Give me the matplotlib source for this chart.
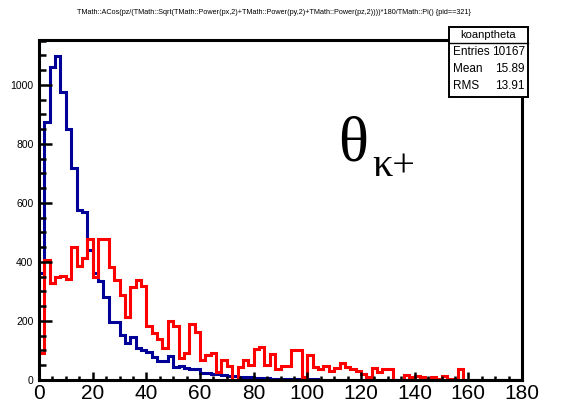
import numpy as np
import matplotlib
matplotlib.use("Agg")
import matplotlib.pyplot as plt
from matplotlib import font_manager
from matplotlib.ticker import MultipleLocator
from matplotlib.patches import Rectangle
from matplotlib.lines import Line2D

# ---- data: 90 bins of 2 degrees between 0 and 180 ----
bin_edges = np.arange(0, 182, 2)

theta_kaon = [  # blue histogram (koanptheta)
    361, 874, 1060, 1097, 975, 849, 719, 575, 570, 440,
    361, 336, 282, 198, 198, 153, 124, 145, 110, 102,
    96, 79, 66, 66, 81, 45, 49, 40, 37, 37,
    25, 23, 20, 20, 17, 14, 12, 10, 9, 9,
    7, 6, 6, 5, 4, 4, 3, 2, 2, 2,
    2, 2, 1, 1, 1, 1, 0, 0, 0, 0,
    0, 0, 0, 0, 0, 0, 0, 0, 0, 0,
    0, 0, 0, 0, 0, 0, 0, 0, 0, 0,
    0, 0, 0, 0, 0, 0, 0, 0, 0, 0,
]

theta_other = [  # red histogram
    91, 405, 330, 350, 352, 343, 452, 386, 412, 477,
    350, 477, 477, 384, 339, 288, 215, 315, 340, 320,
    183, 158, 139, 110, 201, 183, 73, 93, 190, 164,
    68, 85, 93, 28, 68, 47, 0, 45, 68, 51,
    105, 111, 51, 88, 36, 49, 49, 102, 102, 9,
    85, 45, 37, 48, 30, 40, 58, 45, 36, 30,
    20, 9, 40, 28, 38, 36, 0, 0, 18, 9,
    13, 9, 5, 9, 4, 12, 4, 4, 37, 0,
    0, 0, 0, 0, 0, 0, 0, 0, 0, 0,
]

x_ticks = [0, 20, 40, 60, 80, 100, 120, 140, 160, 180]
y_ticks = [0, 200, 400, 600, 800, 1000]

title_text = ("TMath::ACos(pz/(TMath::Sqrt(TMath::Power(px,2)+TMath::Power(py,2)"
              "+TMath::Power(pz,2))))*180/TMath::Pi() {pid==321}")
stats_name = "koanptheta"
stats_rows = [("Entries", "10167"), ("Mean", "15.89"), ("RMS", "13.91")]

# ---- fonts ----
available = {f.name for f in font_manager.fontManager.ttflist}
def pick(*names):
    for n in names:
        if n in available:
            return n
    return "DejaVu Sans"

sans = pick("Liberation Sans Narrow", "Liberation Sans", "DejaVu Sans")
serif = pick("Liberation Serif", "DejaVu Serif")

W, H = 568, 412
fig = plt.figure(figsize=(W / 100, H / 100), dpi=100)

def fx(px):
    return px / W

def fy(py):
    return 1 - py / H

left, right, top, bottom = 39, 522, 40, 380
ax = fig.add_axes([fx(left), fy(bottom), fx(right) - fx(left), fy(top) - fy(bottom)])

ax.stairs(theta_kaon, bin_edges, color="#000099", lw=2.2, baseline=None)
ax.stairs(theta_other, bin_edges, color="#ff0000", lw=2.2, baseline=None)

ax.set_xlim(0, 180)
ax.set_ylim(0, 1.05 * max(theta_kaon))

for s in ax.spines.values():
    s.set_linewidth(2.2)
    s.set_color("black")

ax.set_xticks(x_ticks)
ax.set_yticks(y_ticks)
ax.xaxis.set_minor_locator(MultipleLocator(5))
ax.yaxis.set_minor_locator(MultipleLocator(50))
ax.tick_params(axis="x", which="major", direction="in", length=6, width=1.8, pad=3,
               labelsize=15)
ax.tick_params(axis="x", which="minor", direction="in", length=3, width=1.8)
ax.tick_params(axis="y", which="major", direction="in", length=9.5, width=1.8, pad=4,
               labelsize=7.5)
ax.tick_params(axis="y", which="minor", direction="in", length=4.8, width=1.8)
for lab in ax.get_xticklabels() + ax.get_yticklabels():
    lab.set_fontfamily(sans)

# title line
fig.text(fx(274), fy(13), title_text, ha="center", va="center",
         fontsize=5.2, family=sans)

# particle label
fig.text(fx(338), fy(160), "\u03b8", fontsize=45, family=serif,
         ha="left", va="baseline")
fig.text(fx(372), fy(176), "\u03ba+", fontsize=29, family=serif,
         ha="left", va="baseline")

# statistics box
bx0, bx1, by0, by1 = 449, 528, 27, 97
box = Rectangle((fx(bx0), fy(by1)), fx(bx1) - fx(bx0), fy(by0) - fy(by1),
                transform=fig.transFigure, facecolor="white", edgecolor="black",
                lw=1.4, zorder=10)
fig.patches.append(box)
fig.lines.append(Line2D([fx(bx0), fx(bx1)], [fy(43), fy(43)],
                        transform=fig.transFigure, color="black", lw=1.0, zorder=11))
fig.text(fx((bx0 + bx1) / 2), fy(35), stats_name, ha="center", va="center",
         fontsize=8, family=sans, zorder=12)
for i, (name, val) in enumerate(stats_rows):
    yy = 52 + i * 17
    fig.text(fx(bx0 + 4), fy(yy), name, ha="left", va="center",
             fontsize=8.5, family=sans, zorder=12)
    fig.text(fx(bx1 - 3), fy(yy), val, ha="right", va="center",
             fontsize=8.5, family=sans, zorder=12)

fig.savefig("out.png", dpi=100)
